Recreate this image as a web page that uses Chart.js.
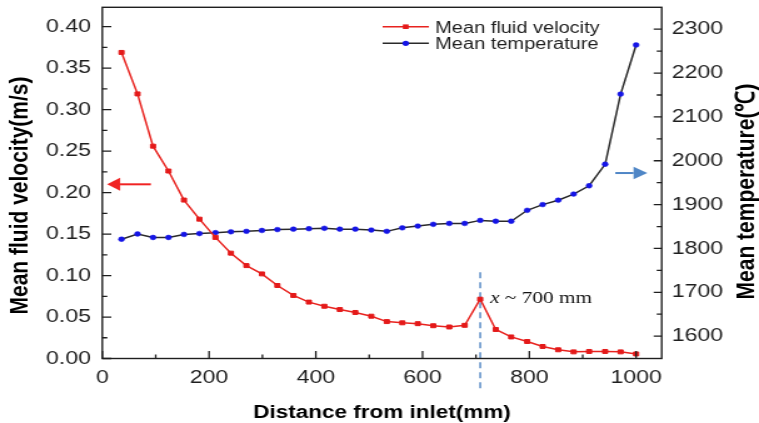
<!DOCTYPE html>
<html>
<head>
<meta charset="utf-8">
<script src="https://cdn.jsdelivr.net/npm/chart.js@4.4.0/dist/chart.umd.min.js"></script>
<style>
  html, body { margin: 0; padding: 0; background: #fff; }
  /* the source figure is stretched sideways, so is this one */
  #wrap { width: 607px; height: 423px; transform: scaleX(1.2504); transform-origin: 0 0; }
</style>
</head>
<body>
<div id="wrap"><canvas id="chart"></canvas></div>
<script>
// distance from inlet (mm)
const distance = [36, 66, 95, 124, 153, 182, 212, 241, 270, 299, 328, 358, 387, 416, 445, 474, 504,
  533, 562, 591, 620, 650, 679, 708, 737, 766, 796, 825, 854, 883, 912, 942, 971, 1000];
// mean fluid velocity (m/s)
const velocity = [0.369, 0.319, 0.256, 0.226, 0.191, 0.168, 0.146, 0.127, 0.112, 0.102, 0.088, 0.076,
  0.068, 0.063, 0.059, 0.0555, 0.051, 0.0445, 0.043, 0.042, 0.0395, 0.038, 0.040, 0.0715, 0.035,
  0.026, 0.0205, 0.0145, 0.0105, 0.008, 0.0085, 0.0085, 0.008, 0.0055];
// mean temperature (C)
const temperature = [1821, 1833, 1825, 1825, 1832, 1834, 1836, 1838, 1839, 1841, 1843, 1844, 1845,
  1846, 1844, 1844, 1842, 1839, 1847, 1851, 1855, 1857, 1857, 1864, 1862, 1862, 1887, 1900, 1910,
  1924, 1943, 1992, 2152, 2264];

const xTicks = [0, 200, 400, 600, 800, 1000];
const velTicks = [0, 0.05, 0.10, 0.15, 0.20, 0.25, 0.30, 0.35, 0.40];
const tempTicks = [1600, 1700, 1800, 1900, 2000, 2100, 2200, 2300];

const markX = 708;           // dashed marker at the velocity peak
const markLabel = ' ~ 700 mm';

const INK = '#1e1e1e';
const SANS = '"Liberation Sans", Arial, sans-serif';

function minors(t, max) {
  const out = [];
  for (let i = 0; i < t.length - 1; i++) out.push((t[i] + t[i + 1]) / 2);
  const next = t[t.length - 1] + (t[1] - t[0]) / 2;
  if (next < max) out.push(next);
  return out;
}

function arrow(ctx, x0, x1, y, color, headLen, headHalf) {
  const dir = x1 > x0 ? 1 : -1;
  ctx.save();
  ctx.strokeStyle = color;
  ctx.fillStyle = color;
  ctx.lineWidth = 2;
  ctx.beginPath();
  ctx.moveTo(x0, y);
  ctx.lineTo(x1 - dir * headLen, y);
  ctx.stroke();
  ctx.beginPath();
  ctx.moveTo(x1, y);
  ctx.lineTo(x1 - dir * headLen, y - headHalf);
  ctx.lineTo(x1 - dir * headLen, y + headHalf);
  ctx.closePath();
  ctx.fill();
  ctx.restore();
}

// fixed axis boxes, no extra label padding
function fixBox(size) {
  return s => {
    if (s.isHorizontal()) s.height = size; else s.width = size;
    s.paddingTop = 0; s.paddingBottom = 0; s.paddingLeft = 0; s.paddingRight = 0;
  };
}

const decor = {
  id: 'decor',
  beforeDatasetsDraw(chart) {
    const ctx = chart.ctx, a = chart.chartArea;
    const xs = chart.scales.x, ys = chart.scales.y;
    const px = xs.getPixelForValue(markX);
    ctx.save();
    ctx.strokeStyle = '#5a8cc6';
    ctx.lineWidth = 1.5;
    ctx.setLineDash([6, 4]);
    ctx.beginPath();
    ctx.moveTo(px, ys.getPixelForValue(0.104));
    ctx.lineTo(px, a.bottom + 30);
    ctx.stroke();
    ctx.restore();
  },
  afterDraw(chart) {
    const ctx = chart.ctx, a = chart.chartArea;
    const xs = chart.scales.x, ys = chart.scales.y, yr = chart.scales.y1;

    // frame
    ctx.save();
    ctx.strokeStyle = INK;
    ctx.lineWidth = 1.4;
    ctx.strokeRect(a.left, a.top, a.right - a.left, a.bottom - a.top);

    // inward tick marks
    ctx.lineWidth = 1.3;
    ctx.beginPath();
    xTicks.forEach(v => { const p = xs.getPixelForValue(v); ctx.moveTo(p, a.bottom); ctx.lineTo(p, a.bottom - 7.5); });
    minors(xTicks, xs.max).forEach(v => { const p = xs.getPixelForValue(v); ctx.moveTo(p, a.bottom); ctx.lineTo(p, a.bottom - 4); });
    velTicks.forEach(v => { const p = ys.getPixelForValue(v); ctx.moveTo(a.left, p); ctx.lineTo(a.left + 7.2, p); });
    minors(velTicks, ys.max).forEach(v => { const p = ys.getPixelForValue(v); ctx.moveTo(a.left, p); ctx.lineTo(a.left + 4, p); });
    tempTicks.forEach(v => { const p = yr.getPixelForValue(v); ctx.moveTo(a.right, p); ctx.lineTo(a.right - 6.4, p); });
    minors(tempTicks, yr.max).forEach(v => { const p = yr.getPixelForValue(v); ctx.moveTo(a.right, p); ctx.lineTo(a.right - 4, p); });
    ctx.stroke();
    ctx.restore();

    // arrows pointing at each axis
    arrow(ctx, xs.getPixelForValue(91), xs.getPixelForValue(9), ys.getPixelForValue(0.21), '#f02323', 10.4, 6.5);
    arrow(ctx, xs.getPixelForValue(961), xs.getPixelForValue(1021), yr.getPixelForValue(1972), '#4f86c6', 11, 6.3);

    // "x ~ 700 mm"
    const tx = xs.getPixelForValue(markX) + 8;
    const ty = ys.getPixelForValue(0.0715) + 3.5;
    ctx.save();
    ctx.fillStyle = '#111';
    ctx.textBaseline = 'alphabetic';
    ctx.font = 'italic 17px "Liberation Serif", "Times New Roman", serif';
    ctx.fillText('x', tx, ty);
    const w = ctx.measureText('x').width;
    ctx.font = '17px "Liberation Serif", "Times New Roman", serif';
    ctx.fillText(markLabel, tx + w, ty);
    ctx.restore();

    // legend
    const ds = chart.data.datasets;
    const rows = [{ y: 26.7, ds: ds[0] }, { y: 43.3, ds: ds[1] }];
    ctx.save();
    ctx.font = '16px ' + SANS;
    ctx.textBaseline = 'alphabetic';
    rows.forEach(r => {
      ctx.strokeStyle = r.ds.borderColor;
      ctx.lineWidth = 1.5;
      ctx.beginPath();
      ctx.moveTo(306, r.y);
      ctx.lineTo(343, r.y);
      ctx.stroke();
      ctx.fillStyle = r.ds.pointBackgroundColor;
      ctx.beginPath();
      if (r.ds.pointStyle === 'rect') ctx.rect(322.2, r.y - 2.3, 4.6, 4.6);
      else ctx.arc(324.5, r.y, 2.6, 0, Math.PI * 2);
      ctx.fill();
      ctx.fillStyle = INK;
      ctx.fillText(r.ds.label, 348, r.y + 5.8);
    });
    ctx.restore();

    // axis titles
    ctx.save();
    ctx.fillStyle = '#000';
    ctx.font = 'bold 18px ' + SANS;
    ctx.textAlign = 'center';
    ctx.textBaseline = 'alphabetic';
    ctx.fillText('Distance from inlet(mm)', (a.left + a.right) / 2, 418.3);
    ctx.font = 'bold 21px ' + SANS;
    ctx.textBaseline = 'middle';
    ctx.translate(16.6, 195.5);
    ctx.rotate(-Math.PI / 2);
    ctx.fillText('Mean fluid velocity(m/s)', 0, 0);
    ctx.restore();
    ctx.save();
    ctx.fillStyle = '#000';
    ctx.font = 'bold 21px ' + SANS;
    ctx.textAlign = 'center';
    ctx.textBaseline = 'middle';
    ctx.translate(597.6, 191.5);
    ctx.rotate(-Math.PI / 2);
    ctx.fillText('Mean temperature(\u2103)', 0, 0);
    ctx.restore();
  }
};

const tickFont = { family: SANS, size: 18.5 };
const noGrid = { display: false, drawTicks: false };

new Chart(document.getElementById('chart'), {
  type: 'line',
  data: {
    datasets: [
      {
        label: 'Mean fluid velocity',
        data: distance.map((d, i) => ({ x: d, y: velocity[i] })),
        yAxisID: 'y',
        borderColor: '#e8231f',
        backgroundColor: '#e8231f',
        pointBackgroundColor: '#e41a1a',
        pointBorderColor: '#e41a1a',
        pointStyle: 'rect',
        pointRadius: 2.8,
        pointBorderWidth: 1,
        borderWidth: 1.5,
        tension: 0
      },
      {
        label: 'Mean temperature',
        data: distance.map((d, i) => ({ x: d, y: temperature[i] })),
        yAxisID: 'y1',
        borderColor: '#2a2a2a',
        backgroundColor: '#2a2a2a',
        pointBackgroundColor: '#1515e6',
        pointBorderColor: '#1515e6',
        pointStyle: 'circle',
        pointRadius: 2.4,
        pointBorderWidth: 0.5,
        borderWidth: 1.5,
        tension: 0
      }
    ]
  },
  options: {
    responsive: true,
    maintainAspectRatio: false,
    animation: false,
    layout: { padding: { top: 7.3, left: 0, right: 0, bottom: 0 } },
    plugins: { legend: { display: false }, tooltip: { enabled: false } },
    scales: {
      x: {
        type: 'linear', position: 'bottom', min: 0, max: 1048,
        afterBuildTicks: s => { s.ticks = xTicks.map(v => ({ value: v })); },
        afterFit: fixBox(64.5),
        grid: noGrid, border: { display: false },
        ticks: { font: tickFont, color: INK, padding: 8, maxRotation: 0, autoSkip: false, callback: v => String(v) }
      },
      y: {
        type: 'linear', position: 'left', min: 0, max: 0.4234,
        afterBuildTicks: s => { s.ticks = velTicks.map(v => ({ value: v })); },
        afterFit: fixBox(81.8),
        grid: noGrid, border: { display: false },
        ticks: { font: tickFont, color: INK, padding: 9, autoSkip: false, callback: v => v.toFixed(2) }
      },
      y1: {
        type: 'linear', position: 'right', min: 1549, max: 2350,
        afterBuildTicks: s => { s.ticks = tempTicks.map(v => ({ value: v })); },
        afterFit: fixBox(77.8),
        grid: noGrid, border: { display: false },
        ticks: { font: tickFont, color: INK, padding: 8, autoSkip: false, callback: v => String(v) }
      }
    }
  },
  plugins: [decor]
});
</script>
</body>
</html>
